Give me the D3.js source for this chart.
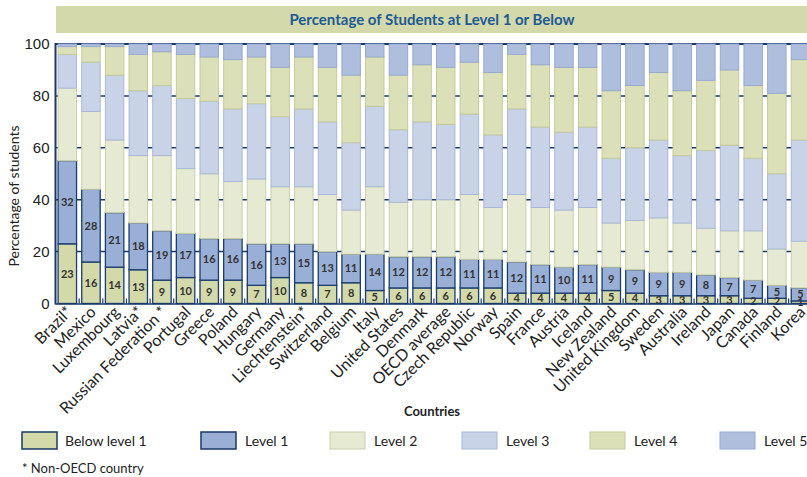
<!DOCTYPE html>
<html>
<head>
<meta charset="utf-8">
<script src="https://cdn.jsdelivr.net/npm/d3@7"></script>
<style>
  body { margin: 0; background: #fff; }
  svg { display: block; font-family: Lato, 'Open Sans', sans-serif; }
</style>
</head>
<body>
<div class="chart"></div>
<script>
var countries = ['Brazil*', 'Mexico', 'Luxembourg', 'Latvia*', 'Russian Federation *', 'Portugal', 'Greece',
    'Poland', 'Hungary', 'Germany', 'Liechtenstein*', 'Switzerland', 'Belgium', 'Italy', 'United States',
    'Denmark', 'OECD average', 'Czech Republic', 'Norway', 'Spain', 'France', 'Austria', 'Iceland',
    'New Zealand', 'United Kingdom', 'Sweden', 'Australia', 'Ireland', 'Japan', 'Canada', 'Finland', 'Korea'];

var levels = ['Below level 1', 'Level 1', 'Level 2', 'Level 3', 'Level 4', 'Level 5'];

var belowLevel1 = [23, 16, 14, 13, 9, 10, 9, 9, 7, 10, 8, 7, 8, 5, 6, 6, 6, 6, 6, 4, 4, 4, 4, 5, 4, 3, 3, 3, 3, 2, 2, 1];
var level1 = [32, 28, 21, 18, 19, 17, 16, 16, 16, 13, 15, 13, 11, 14, 12, 12, 12, 11, 11, 12, 11, 10, 11, 9, 9, 9, 9, 8, 7, 7, 5, 5];
var level2 = [28, 30, 28, 26, 29, 25, 25, 22, 25, 22, 22, 22, 17, 26, 21, 22, 22, 25, 20, 26, 22, 22, 22, 17, 19, 21, 19, 18, 18, 19, 14, 18];
var level3 = [13, 19, 25, 25, 27, 27, 28, 28, 29, 27, 30, 28, 26, 31, 28, 30, 29, 31, 28, 33, 31, 30, 31, 25, 28, 30, 26, 30, 33, 28, 29, 39];
var level4 = [3, 6, 11, 14, 13, 17, 17, 19, 18, 19, 20, 21, 26, 19, 21, 22, 22, 20, 24, 21, 24, 25, 23, 26, 24, 26, 25, 27, 29, 28, 31, 31];
var level5 = [1, 1, 1, 4, 3, 4, 5, 6, 5, 9, 5, 9, 12, 5, 12, 8, 9, 7, 11, 4, 8, 9, 9, 18, 16, 11, 18, 14, 10, 16, 19, 6];

var yTicks = [0, 20, 40, 60, 80, 100];

var fills = ['#d3d9a8', '#9aafd6', '#e6eAd3', '#c9d3e8', '#dce0b9', '#b0bedd'];
var strokes = ['#1b3d6f', '#1b3d6f', '#c9cfa9', '#a9b8d8', '#c4cb98', '#97a9d0'];
var navy = '#1a3868';

var width = 807, height = 477;
var plot = { left: 55.5, right: 812.3, top: 44, bottom: 303.5 };

var svg = d3.select('.chart')
    .append('svg')
    .attr('width', width)
    .attr('height', height);

// title banner
svg.append('rect')
    .attr('x', 56).attr('y', 6)
    .attr('width', 760).attr('height', 27)
    .attr('fill', '#d3d9aa');
svg.append('text')
    .attr('x', 432).attr('y', 25)
    .attr('text-anchor', 'middle')
    .attr('font-size', 15).attr('font-weight', 'bold')
    .attr('fill', '#1d5a94')
    .text('Percentage of Students at Level 1 or Below');

var data = countries.map(function (c, i) {
    return { country: c, vals: [belowLevel1[i], level1[i], level2[i], level3[i], level4[i], level5[i]] };
});

var xScale = d3.scaleBand()
    .domain(countries)
    .range([plot.left, plot.right])
    .paddingInner(0.22)
    .paddingOuter(0.11);

var yScale = d3.scaleLinear()
    .domain([0, 100])
    .range([plot.bottom, plot.top]);

// grid lines behind bars
svg.append('g')
    .selectAll('line')
    .data(yTicks.filter(d => d > 0))
    .enter()
    .append('line')
    .attr('x1', plot.left).attr('x2', width)
    .attr('y1', d => yScale(d)).attr('y2', d => yScale(d))
    .attr('stroke', navy)
    .attr('stroke-width', d => d === 100 ? 2 : 1.5);

var yAxis = d3.axisLeft(yScale)
    .tickValues(yTicks)
    .tickSize(0)
    .tickPadding(6);

svg.append('g')
    .attr('transform', `translate(${plot.left}, 0)`)
    .call(yAxis)
    .call(g => g.select('.domain').remove())
    .selectAll('text')
    .attr('font-family', "'Liberation Sans Narrow', 'Arial Narrow', 'Liberation Sans', sans-serif")
    .attr('font-size', 15)
    .attr('fill', '#222');

// stacked bars
var stack = d3.stack()
    .keys(d3.range(6))
    .value((d, k) => d.vals[k]);
var series = stack(data);

var layers = svg.append('g')
    .selectAll('.layer')
    .data(series)
    .enter()
    .append('g')
    .attr('class', 'layer');

layers.selectAll('rect')
    .data((s, k) => s.map(p => ({ p: p, k: k })))
    .enter()
    .append('rect')
    .attr('x', d => xScale(d.p.data.country))
    .attr('width', xScale.bandwidth())
    .attr('y', d => yScale(d.p[1]))
    .attr('height', d => yScale(d.p[0]) - yScale(d.p[1]))
    .attr('fill', d => fills[d.k])
    .attr('stroke', d => strokes[d.k])
    .attr('stroke-width', d => d.k < 2 ? 1.3 : 1);

// labels on the two lowest levels
svg.append('g')
    .selectAll('text')
    .data(series.slice(0, 2).flatMap(s => s))
    .enter()
    .append('text')
    .attr('x', d => xScale(d.data.country) + xScale.bandwidth() / 2)
    .attr('y', d => yScale((d[0] + d[1]) / 2) + 4)
    .attr('text-anchor', 'middle')
    .attr('font-size', 11).attr('font-weight', 'bold')
    .attr('fill', '#333')
    .text(d => d[1] - d[0]);

// frame: left axis and baseline
svg.append('line')
    .attr('x1', plot.left).attr('x2', plot.left)
    .attr('y1', plot.top - 1).attr('y2', plot.bottom + 1)
    .attr('stroke', navy).attr('stroke-width', 2);
svg.append('line')
    .attr('x1', plot.left).attr('x2', width)
    .attr('y1', plot.bottom + 0.5).attr('y2', plot.bottom + 0.5)
    .attr('stroke', navy).attr('stroke-width', 1.5);

// small ticks between bars
var step = xScale.step();
svg.append('g')
    .selectAll('line')
    .data(countries.slice(1))
    .enter()
    .append('line')
    .attr('x1', d => xScale(d) - step * 0.11)
    .attr('x2', d => xScale(d) - step * 0.11)
    .attr('y1', plot.bottom - 5).attr('y2', plot.bottom)
    .attr('stroke', navy).attr('stroke-width', 1.2);

// country labels
svg.append('g')
    .selectAll('text')
    .data(countries)
    .enter()
    .append('text')
    .attr('text-anchor', 'end')
    .attr('font-size', 16)
    .attr('fill', '#222')
    .attr('transform', d => `translate(${xScale(d) + xScale.bandwidth() / 2 + 6}, 313) rotate(-45)`)
    .text(d => d);

// axis titles
svg.append('text')
    .attr('transform', 'translate(19, 196) rotate(-90)')
    .attr('text-anchor', 'middle')
    .attr('font-size', 14)
    .attr('fill', '#222')
    .text('Percentage of students');

svg.append('text')
    .attr('x', 432).attr('y', 416)
    .attr('text-anchor', 'middle')
    .attr('font-size', 13).attr('font-weight', 'bold')
    .attr('fill', '#222')
    .text('Countries');

// legend
var legendX = [22, 201, 330, 462, 590, 720];
var legend = svg.append('g')
    .selectAll('g')
    .data(levels)
    .enter()
    .append('g')
    .attr('transform', (d, i) => `translate(${legendX[i]}, 432)`);

legend.append('rect')
    .attr('width', 35).attr('height', 17)
    .attr('fill', (d, i) => fills[i])
    .attr('stroke', (d, i) => i < 2 ? navy : strokes[i])
    .attr('stroke-width', (d, i) => i < 2 ? 1.5 : 1);

legend.append('text')
    .attr('x', (d, i) => i === 0 ? 43 : 44)
    .attr('y', 14)
    .attr('font-size', 14)
    .attr('fill', '#222')
    .text(d => d);

svg.append('text')
    .attr('x', 22).attr('y', 473)
    .attr('font-size', 13)
    .attr('fill', '#222')
    .text('* Non-OECD country');
</script>
</body>
</html>
